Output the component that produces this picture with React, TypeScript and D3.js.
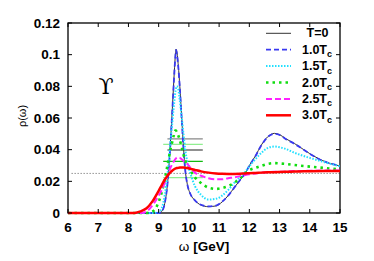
import React from "react";
import * as d3 from "d3";

// omega grid (GeV) shared by all spectral functions
const omega = [6, 8, 8.2, 8.4, 8.6, 8.8, 9.0, 9.1, 9.2, 9.3, 9.4, 9.45, 9.5, 9.55, 9.575, 9.6, 9.65, 9.7, 9.76, 9.82, 9.88, 9.95, 10.05, 10.2, 10.4, 10.65, 10.9, 11.1, 11.3, 11.5, 11.7, 11.86, 12.0, 12.2, 12.4, 12.6, 12.83, 13.0, 13.2, 13.5, 13.8, 14.0, 14.5, 15];

const rhoT0 = [0, 0, 0, 0, 0, 0, 0, 0.001, 0.006, 0.02, 0.048, 0.065, 0.083, 0.099, 0.1035, 0.102, 0.093, 0.08, 0.061, 0.042, 0.027, 0.018, 0.012, 0.008, 0.005, 0.004, 0.0045, 0.007, 0.011, 0.016, 0.021, 0.025, 0.03, 0.036, 0.043, 0.048, 0.0503, 0.0495, 0.047, 0.0438, 0.04, 0.0375, 0.0325, 0.0297];
const rho10 = [0, 0, 0, 0, 0, 0, 0, 0.001, 0.006, 0.02, 0.047, 0.064, 0.082, 0.098, 0.103, 0.101, 0.092, 0.079, 0.06, 0.041, 0.027, 0.018, 0.012, 0.008, 0.0052, 0.0042, 0.0047, 0.0072, 0.011, 0.016, 0.021, 0.025, 0.0298, 0.0358, 0.0428, 0.0478, 0.05, 0.0493, 0.0468, 0.0436, 0.04, 0.0374, 0.0324, 0.0297];
const rho15 = [0, 0, 0, 0, 0, 0, 0.0005, 0.003, 0.011, 0.026, 0.047, 0.057, 0.067, 0.076, 0.079, 0.08, 0.078, 0.071, 0.061, 0.05, 0.04, 0.032, 0.025, 0.017, 0.0115, 0.0085, 0.009, 0.011, 0.0145, 0.019, 0.023, 0.026, 0.0295, 0.034, 0.038, 0.041, 0.042, 0.0415, 0.0405, 0.038, 0.036, 0.0348, 0.032, 0.0295];
const rho20 = [0, 0, 0, 0, 0, 0.001, 0.007, 0.013, 0.021, 0.031, 0.041, 0.045, 0.049, 0.052, 0.052, 0.051, 0.049, 0.046, 0.042, 0.037, 0.033, 0.03, 0.027, 0.0225, 0.019, 0.016, 0.0152, 0.0158, 0.017, 0.019, 0.022, 0.025, 0.027, 0.0285, 0.0298, 0.031, 0.0315, 0.0313, 0.031, 0.0303, 0.0297, 0.0293, 0.0284, 0.0276];
const rho25 = [0, 0, 0, 0, 0.001, 0.005, 0.011, 0.0145, 0.019, 0.024, 0.029, 0.031, 0.0325, 0.034, 0.0345, 0.035, 0.035, 0.0348, 0.034, 0.033, 0.032, 0.031, 0.0285, 0.0255, 0.0235, 0.022, 0.0213, 0.0213, 0.022, 0.0225, 0.0233, 0.024, 0.0245, 0.025, 0.0255, 0.0258, 0.026, 0.026, 0.0262, 0.0265, 0.0266, 0.0267, 0.0268, 0.0268];
const rho30 = [0, 0, 0, 0.001, 0.003, 0.0075, 0.014, 0.0175, 0.021, 0.0237, 0.026, 0.0268, 0.0275, 0.028, 0.0282, 0.0284, 0.0285, 0.0287, 0.0287, 0.0287, 0.0286, 0.0284, 0.0279, 0.0272, 0.0263, 0.0255, 0.025, 0.0248, 0.0247, 0.0247, 0.0248, 0.025, 0.0251, 0.0253, 0.0255, 0.0257, 0.0258, 0.0259, 0.026, 0.0262, 0.0263, 0.0264, 0.0265, 0.0265];

const seriesNames = ["T=0", "1.0", "1.5", "2.0", "2.5", "3.0"];
const seriesValues = [rhoT0, rho10, rho15, rho20, rho25, rho30];

// short horizontal markers near the peak
const barLevels = [0.0468, 0.0434, 0.0398, 0.0326, 0.0224];
const barStart = [9.29, 9.15, 9.29, 9.15, 9.15];
const barEnd = [10.46, 10.46, 10.46, 10.46, 10.46];

const continuumLevel = 0.025;

const xTicks = [6, 7, 8, 9, 10, 11, 12, 13, 14, 15];
const yTicks = [0, 0.02, 0.04, 0.06, 0.08, 0.1, 0.12];
const yTickLabels = ["0", "0.02", "0.04", "0.06", "0.08", "0.1", "0.12"];

const styles = [
  { color: "#333", width: 1, dash: "none" },
  { color: "#3838f0", width: 1.8, dash: "5,3" },
  { color: "#22e0ff", width: 2, dash: "1.5,1.5" },
  { color: "#11dd11", width: 2.6, dash: "2.5,4" },
  { color: "#ff22ff", width: 2, dash: "6,3" },
  { color: "#ff0000", width: 2.5, dash: "none" },
];
const barColors = ["#888", "#90ee90", "#222", "#11bb11", "#90ee90"];

export default function App() {
  const W = 374, H = 261;
  const left = 68, right = 340, top = 23, bottom = 213;
  const x = d3.scaleLinear().domain([6, 15]).range([left, right]);
  const y = d3.scaleLinear().domain([0, 0.12]).range([bottom, top]);
  const font = "'Liberation Sans', Arial, sans-serif";

  const lineGen = (vals: number[]) =>
    d3.line<number>()
      .x((_, i) => x(omega[i]))
      .y((v) => y(v))
      .curve(d3.curveMonotoneX)(vals) || "";

  const tick = 4;

  return (
    <svg width={W} height={H} style={{ position: "absolute", left: 0, top: 0, background: "#fff" }}>
      <defs>
        <clipPath id="plot">
          <rect x={left} y={top - 2} width={right - left} height={bottom - top + 4} />
        </clipPath>
      </defs>

      {/* frame */}
      <rect x={left} y={top} width={right - left} height={bottom - top} fill="none" stroke="#000" strokeWidth={1.3} />

      {/* continuum reference line */}
      <line x1={x(6.12)} x2={right} y1={y(continuumLevel)} y2={y(continuumLevel)}
        stroke="#333" strokeWidth={0.8} strokeDasharray="1,2" />

      {barLevels.map((lv, i) => (
        <line key={"b" + i} x1={x(barStart[i])} x2={x(barEnd[i])} y1={y(lv)} y2={y(lv)}
          stroke={barColors[i]} strokeWidth={1.2} />
      ))}

      <g clipPath="url(#plot)">
        {seriesValues.map((vals, i) => (
          <path key={"s" + i} d={lineGen(vals)} fill="none" stroke={styles[i].color}
            strokeWidth={styles[i].width} strokeDasharray={styles[i].dash} />
        ))}
      </g>

      {xTicks.map((t) => (
        <g key={"x" + t}>
          <line x1={x(t)} x2={x(t)} y1={bottom} y2={bottom - tick} stroke="#000" />
          <line x1={x(t)} x2={x(t)} y1={top} y2={top + tick} stroke="#000" />
          <text x={x(t)} y={232} textAnchor="middle" fontFamily={font} fontWeight="bold" fontSize={13.5}>{t}</text>
        </g>
      ))}
      {yTicks.map((t, i) => (
        <g key={"y" + t}>
          <line x1={left} x2={left + tick} y1={y(t)} y2={y(t)} stroke="#000" />
          <line x1={right} x2={right - tick} y1={y(t)} y2={y(t)} stroke="#000" />
          <text x={60} y={y(t) + 4.8} textAnchor="end" fontFamily={font} fontWeight="bold" fontSize={13.5}>{yTickLabels[i]}</text>
        </g>
      ))}

      {/* legend */}
      {seriesNames.map((name, i) => {
        const ly = 33.3 + i * 16.4;
        return (
          <g key={"l" + i}>
            <line x1={266} x2={291} y1={ly} y2={ly} stroke={styles[i].color}
              strokeWidth={styles[i].width} strokeDasharray={styles[i].dash} />
            {i === 0 ? (
              <text x={328.5} y={ly + 4} textAnchor="end" fontFamily={font} fontWeight="bold" fontSize={12.5}>{name}</text>
            ) : (
              <text x={332} y={ly + 4} textAnchor="end" fontFamily={font} fontWeight="bold" fontSize={12.5}>
                {name}T<tspan fontSize={9} dy={3.5}>c</tspan>
              </text>
            )}
          </g>
        );
      })}

      <text x={106} y={94} textAnchor="middle" fontFamily="'DejaVu Serif', serif" fontSize={22}>ϒ</text>

      <text transform="translate(26,116) rotate(-90)" textAnchor="middle" fontFamily={font} fontSize={11}>ρ(ω)</text>
      <text x={204} y={251} textAnchor="middle" fontFamily={font} fontSize={13.5}>
        ω <tspan fontWeight="bold">[GeV]</tspan>
      </text>
    </svg>
  );
}
